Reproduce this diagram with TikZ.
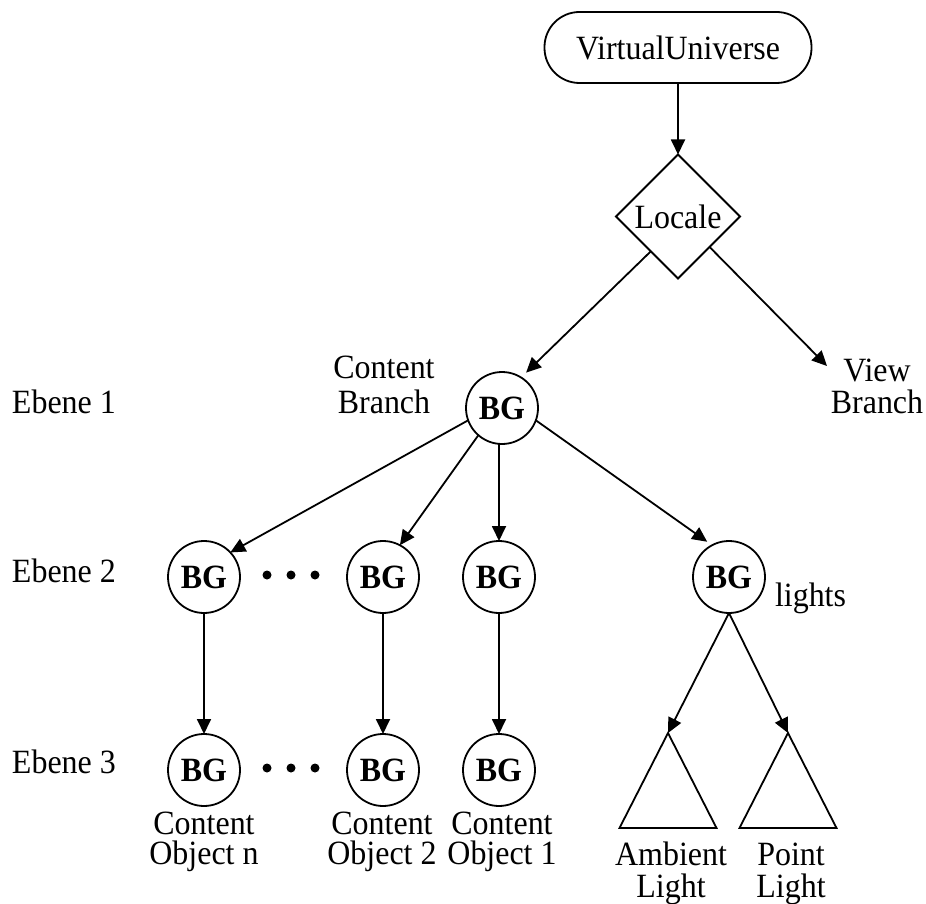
\documentclass[tikz,border=0pt]{standalone}
\usepackage{fontspec}
\setmainfont{Liberation Serif}[FakeStretch=0.94]
\usetikzlibrary{arrows.meta,shapes.geometric}
\newcommand\twolines[3][0pt]{\begin{tabular}[t]{@{}c@{}}#2\\[#1]#3\end{tabular}}
\begin{document}
\begin{tikzpicture}[x=1pt,y=-1pt,
  every node/.style={font=\fontsize{34}{33}\selectfont, inner sep=0pt, outer sep=0pt},
  bgnode/.style={circle, draw, line width=1.8pt, minimum size=72pt, font=\fontsize{34}{33}\selectfont\bfseries},
  arr/.style={line width=1.8pt, -{Triangle[length=15pt,width=14pt]}},
  plain/.style={line width=1.8pt},
  lbl/.style={anchor=base},
  dot/.style={fill=black}]
\useasboundingbox (0,0) rectangle (926,904);

% top
\node[draw, line width=1.8pt, rounded corners=35pt, minimum width=267pt, minimum height=71pt] (vu) at (678,47.5) {VirtualUniverse};
\node[diamond, draw, line width=1.8pt, minimum width=124pt, minimum height=124pt, aspect=1] (locale) at (678,216.5) {Locale};
\coordinate (vbtip) at (827,366);

% level 1
\node[bgnode] (bg1) at (502,408) {BG};
\node[lbl] (cbl) at (384,378) {\twolines[2pt]{Content}{Branch}};
\node[lbl] (vbl) at (877,381) {\twolines[-1pt]{View}{Branch}};

% level 2
\node[bgnode] (n1) at (204,577) {BG};
\node[bgnode] (n2) at (383,577) {BG};
\node[bgnode] (n3) at (499,577) {BG};
\node[bgnode] (n4) at (729,577) {BG};
\node[anchor=base west] (lights) at (775,606) {lights};

% level 3
\node[bgnode] (m1) at (204,770) {BG};
\node[bgnode] (m2) at (383,770) {BG};
\node[bgnode] (m3) at (499,770) {BG};
\node[lbl] (c1) at (204,834) {\twolines[-3pt]{Content}{Object n}};
\node[lbl] (c2) at (382,834) {\twolines[-3pt]{Content}{Object 2}};
\node[lbl] (c3) at (502,834) {\twolines[-3pt]{Content}{Object 1}};

% lights triangles
\coordinate (amb) at (668,733);
\coordinate (pnt) at (788,733);
\draw[plain] (amb) -- ++(-48.5,95) -- ++(97,0) -- cycle;
\draw[plain] (pnt) -- ++(-48.5,95) -- ++(97,0) -- cycle;
\node[lbl] (ambl) at (671,865) {\twolines[-1pt]{Ambient}{Light}};
\node[lbl] (pntl) at (791,865) {\twolines[-1pt]{Point}{Light}};

% Ebene labels
\node[anchor=base west] (e1) at (12,413) {Ebene 1};
\node[anchor=base west] (e2) at (12,582) {Ebene 2};
\node[anchor=base west] (e3) at (12,773) {Ebene 3};

% dots
\fill[dot] (267,575) circle (4.5pt) (291,575) circle (4.5pt) (315,575) circle (4.5pt);
\fill[dot] (267,768) circle (4.5pt) (291,768) circle (4.5pt) (315,768) circle (4.5pt);

% connectors
\draw[arr] (vu.south) -- (locale.north);
\draw[arr, shorten >=7pt] (locale.-128) -- (bg1.58);
\draw[arr] (locale.-44) -- (vbtip);
\draw[arr] (bg1.200) -- (n1.43);
\draw[arr] (bg1.229) -- (n2.62);
\draw[arr] (n3 |- bg1.south) -- (n3.north);
\draw[arr, shorten >=6pt] (bg1.-20) -- (n4.118);
\draw[arr] (n1.south) -- (m1.north);
\draw[arr] (n2.south) -- (m2.north);
\draw[arr] (n3.south) -- (m3.north);
\draw[arr] (n4.south) -- (amb);
\draw[arr] (n4.south) -- (pnt);
\end{tikzpicture}
\end{document}
